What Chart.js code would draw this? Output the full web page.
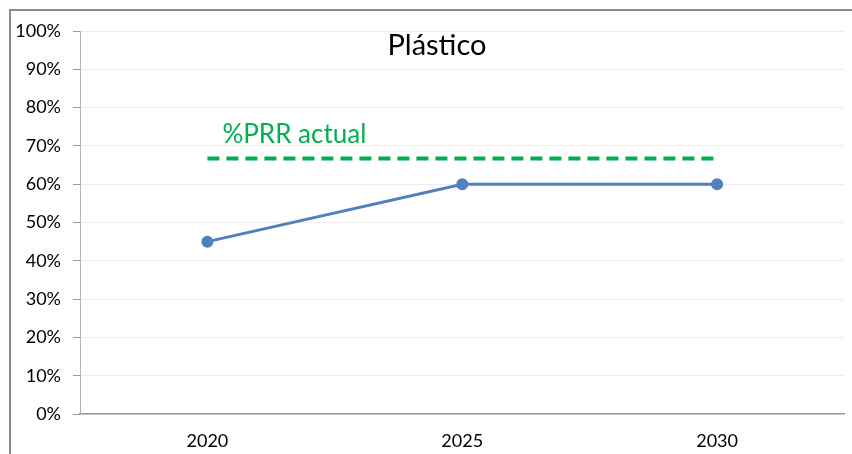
<!DOCTYPE html>
<html>
<head>
<meta charset="utf-8">
<script src="https://cdn.jsdelivr.net/npm/chart.js@4.4.1/dist/chart.umd.min.js"></script>
<style>
  html, body { margin: 0; padding: 0; background: #fff; overflow: hidden; }
  #wrap { position: relative; width: 852px; height: 454px; }
  #frame { position: absolute; left: 9px; top: 9px; width: 900px; height: 500px; border: 2px solid #8c8c8c; box-sizing: border-box; }
  canvas { position: absolute; left: 0; top: 0; }
</style>
</head>
<body>
<div id="wrap">
  <div id="frame"></div>
  <canvas id="chart" width="852" height="454"></canvas>
</div>
<script>
// Daten
const years = ['2020', '2025', '2030'];
const plasticValues = [45, 60, 60];
const prrActual = [66.7, 66.7, 66.7];
const yTicks = [0, 10, 20, 30, 40, 50, 60, 70, 80, 90, 100];

const chartTitle = 'Plástico';
const prrLabel = '%PRR actual';

const FONT = 'Lato, "Noto Sans", sans-serif';

// Titel und Beschriftung direkt ins Diagramm zeichnen
const textPlugin = {
    id: 'textPlugin',
    afterDraw(chart) {
        const ctx = chart.ctx;
        const meta = chart.getDatasetMeta(1);
        const p0 = meta.data[0];
        ctx.save();
        ctx.fillStyle = '#000';
        ctx.font = '29px ' + FONT;
        ctx.textAlign = 'center';
        ctx.textBaseline = 'middle';
        ctx.fillText(chartTitle, 437, 46);

        ctx.fillStyle = '#00B050';
        ctx.font = '26px ' + FONT;
        ctx.textAlign = 'left';
        ctx.fillText(prrLabel, p0.x + 15, p0.y - 24);
        ctx.restore();
    }
};

new Chart(document.getElementById('chart'), {
    type: 'line',
    data: {
        labels: years,
        datasets: [{
            label: chartTitle,
            data: plasticValues,
            borderColor: '#4F81BD',
            backgroundColor: '#4F81BD',
            borderWidth: 3,
            pointRadius: 4.5,
            pointHoverRadius: 4.5,
            tension: 0
        }, {
            label: prrLabel,
            data: prrActual,
            borderColor: '#00B050',
            borderWidth: 4,
            borderDash: [12, 7],
            pointRadius: 0,
            tension: 0
        }]
    },
    options: {
        responsive: false,
        animation: false,
        layout: { padding: { left: 0, right: 6, top: 31, bottom: 0 } },
        plugins: {
            legend: { display: false },
            title: { display: false },
            tooltip: { enabled: false }
        },
        scales: {
            x: {
                offset: true,
                grid: { display: false, drawTicks: false },
                border: { display: true, color: '#999999', width: 1.5 },
                ticks: {
                    color: '#000',
                    font: { family: FONT, size: 18 },
                    padding: 16
                },
                afterFit(scale) { scale.height = 40; }
            },
            y: {
                min: 0,
                max: 100,
                afterBuildTicks(scale) {
                    scale.ticks = yTicks.map(v => ({ value: v }));
                },
                grid: {
                    color: '#ececec',
                    lineWidth: 1,
                    drawTicks: true,
                    tickLength: 7,
                    tickColor: '#999999'
                },
                border: { display: true, color: '#b3b3b3', width: 1 },
                ticks: {
                    color: '#000',
                    font: { family: FONT, size: 18 },
                    padding: 12,
                    callback: v => v + '%'
                },
                afterFit(scale) { scale.width = 80; }
            }
        }
    },
    plugins: [textPlugin]
});
</script>
</body>
</html>
